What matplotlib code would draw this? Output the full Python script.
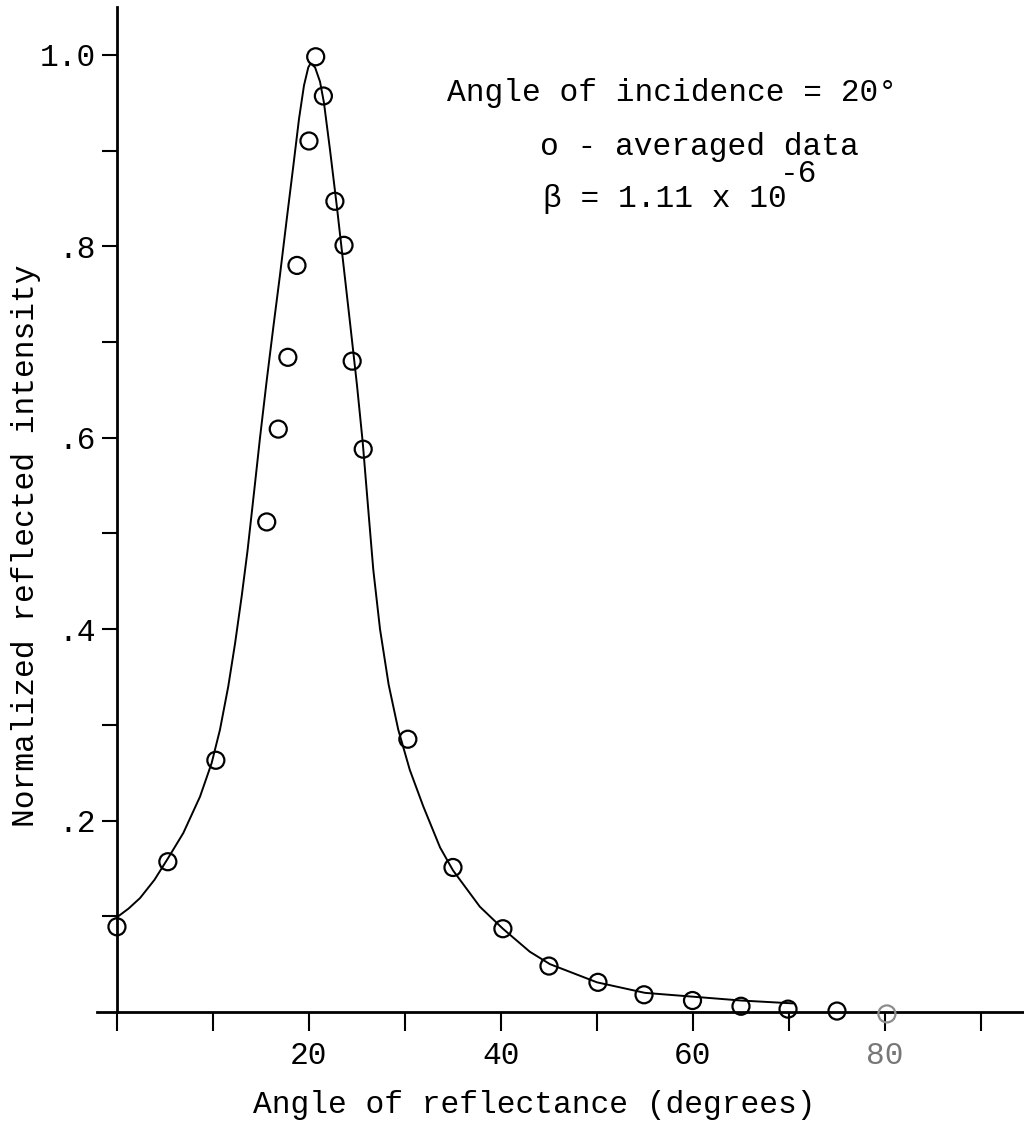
import numpy as np
import matplotlib
matplotlib.use('Agg')
import matplotlib.pyplot as plt

# averaged data points (angle of reflectance, normalized intensity)
pt_x = [0, 5.3, 10.3, 15.6, 16.8, 17.8, 18.75, 20.0, 20.7, 21.5, 22.7, 23.65,
        24.5, 25.65, 30.3, 35.0, 40.2, 45.0, 50.1, 54.9, 59.95, 65.0, 69.9,
        75.0, 80.2]
pt_y = [0.089, 0.157, 0.263, 0.512, 0.609, 0.684, 0.780, 0.910, 0.998, 0.957,
        0.847, 0.801, 0.680, 0.588, 0.285, 0.151, 0.087, 0.048, 0.031, 0.018,
        0.012, 0.006, 0.003, 0.001, -0.002]

# fitted curve
fit_x = [0, 1.2, 2.4, 3.9, 5.34, 6.91, 8.65, 9.86, 10.73, 11.59, 12.3, 13.0,
         13.6, 14.3, 14.9, 15.6, 16.28, 16.98, 17.68, 18.37, 18.96, 19.48,
         19.93, 20.17, 20.63, 21.15, 21.56, 22.2, 22.9, 23.6, 24.3, 25.0,
         25.6, 26.2, 26.7, 27.4, 28.3, 29.3, 30.5, 31.9, 33.65, 35.0, 37.8,
         40.2, 43.0, 45.1, 50.0, 55.0, 60.0, 65.0, 70.4]
fit_y = [0.099, 0.108, 0.119, 0.138, 0.161, 0.187, 0.225, 0.260, 0.295, 0.340,
         0.385, 0.435, 0.482, 0.545, 0.600, 0.660, 0.715, 0.770, 0.828, 0.884,
         0.933, 0.968, 0.987, 0.991, 0.987, 0.972, 0.950, 0.900, 0.842, 0.780,
         0.718, 0.655, 0.595, 0.522, 0.462, 0.400, 0.342, 0.295, 0.253, 0.215,
         0.172, 0.148, 0.110, 0.087, 0.063, 0.050, 0.031, 0.020, 0.016, 0.012,
         0.009]

x_ticks = [0, 10, 20, 30, 40, 50, 60, 70, 80, 90]
x_tick_labels = ['', '', '20', '', '40', '', '60', '', '80', '']
y_ticks = [0.1, 0.2, 0.3, 0.4, 0.5, 0.6, 0.7, 0.8, 0.9, 1.0]
y_tick_labels = ['', '.2', '', '.4', '', '.6', '', '.8', '', '1.0']

plt.rcParams['font.family'] = ['Liberation Mono', 'DejaVu Sans Mono']

W, H = 1024, 1135
fig = plt.figure(figsize=(W / 100, H / 100), dpi=100)
ax = fig.add_axes([97 / W, 123 / H, 927 / W, 1005 / H])

ax.plot(fit_x, fit_y, color='black', lw=1.4, solid_joinstyle='round')

edge = ['black'] * (len(pt_x) - 1) + ['#8c8c8c']
ax.scatter(pt_x, pt_y, s=150, facecolors='none', edgecolors=edge,
           linewidths=1.6, clip_on=False, zorder=3)

ax.set_xlim(-2.08, 94.48)
ax.set_ylim(0, 1.05)

for s in ['top', 'right']:
    ax.spines[s].set_visible(False)
ax.spines['left'].set_position(('data', 0))
ax.spines['left'].set_linewidth(2.0)
ax.spines['bottom'].set_linewidth(2.0)

ax.set_xticks(x_ticks)
ax.set_xticklabels(x_tick_labels, fontsize=22.5)
ax.set_yticks(y_ticks)
ax.set_yticklabels(y_tick_labels, fontsize=22.5)
ax.tick_params(axis='x', direction='out', length=14, width=1.5, pad=7)
ax.tick_params(axis='y', direction='out', length=11, width=1.5, pad=4)
ax.get_xticklabels()[8].set_color('#777777')

fig.text(534 / W, 1 - 1105 / H, 'Angle of reflectance (degrees)',
         fontsize=22.5, ha='center', va='center')
fig.text(26 / W, 1 - 546 / H, 'Normalized reflected intensity',
         fontsize=22.5, ha='center', va='center', rotation=90)

ax.text(34.4, 0.952, 'Angle of incidence = 20\u00b0', fontsize=22.5,
        va='baseline')
ax.text(44.1, 0.8955, 'o - averaged data', fontsize=22.5, va='baseline')
ax.text(44.4, 0.841, '\u03b2 = 1.11 x 10', fontsize=22.5, va='baseline')
ax.text(69.1, 0.867, '-6', fontsize=22.5, va='baseline')

fig.savefig('out.png', dpi=100)
